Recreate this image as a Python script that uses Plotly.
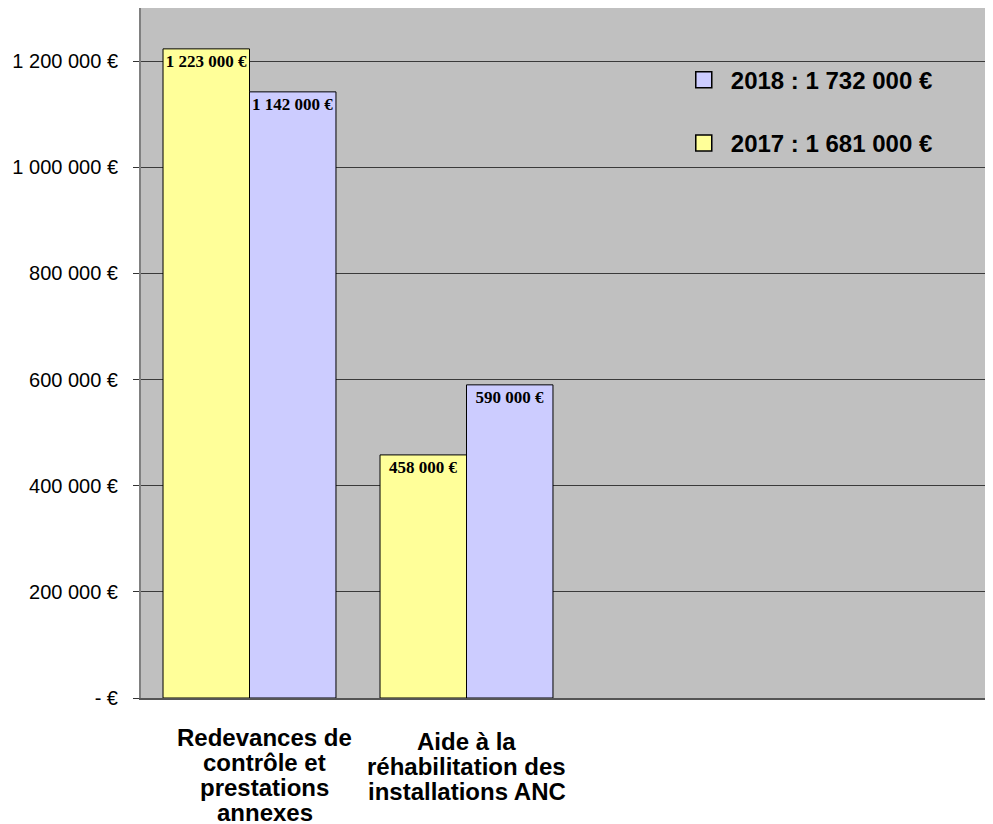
import plotly.graph_objects as go

# ---- data ----
categories = ["Redevances de contrôle et prestations annexes",
              "Aide à la réhabilitation des installations ANC"]
category_lines = [["Redevances de", "contrôle et", "prestations", "annexes"],
                  ["Aide à la", "réhabilitation des", "installations ANC"]]
years = ["2017", "2018"]
values_2017 = [1223000, 458000]
values_2018 = [1142000, 590000]
y_tickvals = [0, 200000, 400000, 600000, 800000, 1000000, 1200000]
y_ticktext = ["- €", "200 000 €", "400 000 €", "600 000 €", "800 000 €",
              "1 000 000 €", "1 200 000 €"]


def eur(v):
    return f"{v:,}".replace(",", " ") + " €"


series = [(years[0], values_2017, "#FFFF99", 2), (years[1], values_2018, "#CCCCFF", 1)]

fig = go.Figure()
for name, vals, col, rank in series:
    fig.add_trace(go.Bar(
        x=categories, y=vals, name=name, marker=dict(color=col, line=dict(color="black", width=1)),
        text=[eur(v) for v in vals], textposition="inside", insidetextanchor="end",
        textangle=0, constraintext="none",
        textfont=dict(family="Liberation Serif", size=17, color="black", weight="bold"),
        showlegend=False, cliponaxis=False,
    ))
# legend entries
for name, vals, col, rank in series:
    fig.add_trace(go.Scatter(
        x=[None], y=[None], mode="markers", name=f"{name} : {eur(sum(vals))}",
        legendrank=rank, legendgroup="g" + name,
        marker=dict(symbol="square", size=22, color=col, line=dict(color="black", width=1.5)),
    ))

# category labels (tight line spacing)
label_xshift = [15, 0]
label_yshift = [-39, -43]
for i, lines in enumerate(category_lines):
    for k, line in enumerate(lines):
        fig.add_annotation(
            x=categories[i], y=0, xref="x", yref="paper", text=line, showarrow=False,
            xanchor="center", yanchor="middle", xshift=label_xshift[i],
            yshift=label_yshift[i] - 25.3 * k,
            font=dict(family="Liberation Sans", size=24, color="black", weight="bold"),
        )

fig.update_layout(
    width=993, height=824,
    margin=dict(l=133, r=0, t=0, b=134),
    paper_bgcolor="white", plot_bgcolor="#C0C0C0",
    barmode="group", bargap=0.203, bargroupgap=0,
    showlegend=True,
    legend=dict(x=0.623, y=0.928, xanchor="left", yanchor="top",
                traceorder="grouped", tracegroupgap=29, itemwidth=44,
                bgcolor="rgba(0,0,0,0)",
                font=dict(family="Liberation Sans", size=24, color="black", weight="bold")),
    xaxis=dict(range=[-0.5, -0.5 + 860 / 217], showticklabels=False, showgrid=False,
               showline=True, linecolor="#555555", linewidth=2, ticks="", zeroline=False,
               fixedrange=True, automargin=False),
    yaxis=dict(range=[0, 1300000], tickvals=y_tickvals, ticktext=y_ticktext,
               showgrid=True, gridcolor="#3a3a3a", gridwidth=1, zeroline=False,
               showline=True, linecolor="#808080", linewidth=2, automargin=False,
               ticks="outside", ticklen=6, tickcolor="#333333", ticklabelstandoff=11,
               tickfont=dict(family="Liberation Sans", size=20, color="black")),
)

fig.write_html("out.html")
